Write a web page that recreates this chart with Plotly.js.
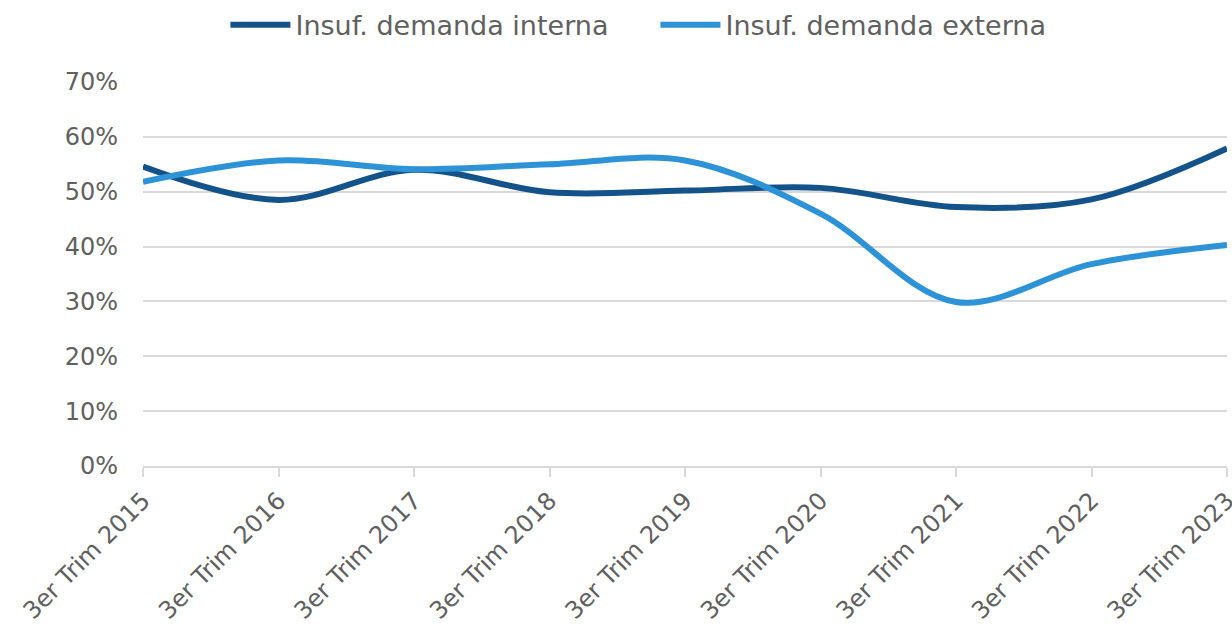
<!DOCTYPE html>
<html><head><meta charset="utf-8">
<script src="https://cdn.plot.ly/plotly-3.0.1.min.js"></script>
<style>html,body{margin:0;padding:0;background:#fff;}#chart{width:1232px;height:630px;}</style>
</head><body><div id="chart"></div>
<script>
const categories = ["3er Trim 2015","3er Trim 2016","3er Trim 2017","3er Trim 2018","3er Trim 2019","3er Trim 2020","3er Trim 2021","3er Trim 2022","3er Trim 2023"];
const interna = [0.546, 0.485, 0.540, 0.499, 0.502, 0.507, 0.472, 0.486, 0.579];
const externa = [0.518, 0.557, 0.541, 0.550, 0.557, 0.460, 0.299, 0.368, 0.403];
const yTicks = [0, 0.1, 0.2, 0.3, 0.4, 0.5, 0.6, 0.7];

const fam = "DejaVu Sans, Noto Sans, sans-serif";
const grey = "#606060";
const data = [
  {x: categories, y: interna, name: "Insuf. demanda interna", type: "scatter", mode: "lines",
   line: {color: "#14538A", width: 6, shape: "spline", smoothing: 1}},
  {x: categories, y: externa, name: "Insuf. demanda externa", type: "scatter", mode: "lines",
   line: {color: "#2E93D6", width: 6, shape: "spline", smoothing: 1}}
];
const layout = {
  width: 1232, height: 630,
  margin: {l: 143, r: 5, t: 82, b: 164},
  paper_bgcolor: "#fff", plot_bgcolor: "#fff",
  font: {family: fam, color: grey, size: 24},
  showlegend: true,
  legend: {orientation: "h", x: 0.532, xanchor: "center", xref: "container",
           y: 0.96, yanchor: "middle", yref: "container", entrywidth: 355, entrywidthmode: "pixels",
           font: {family: fam, color: grey, size: 27}, itemwidth: 60, traceorder: "normal"},
  xaxis: {type: "category", range: [0, 8], showgrid: false, zeroline: false, automargin: false,
          showline: true, linecolor: "#d9d9d9", linewidth: 2,
          ticks: "outside", ticklen: 9, tickcolor: "#d9d9d9", tickwidth: 2,
          tickangle: -45, tickfont: {family: fam, size: 24, color: grey}},
  yaxis: {range: [0, 0.7], tickvals: yTicks, tickformat: ".0%", showgrid: true, gridcolor: "#d9d9d9", gridwidth: 2,
          zeroline: false, showline: false, ticks: "", ticklabelstandoff: 24, automargin: false,
          tickfont: {family: fam, size: 24, color: grey}}
};
Plotly.newPlot("chart", data, layout, {displayModeBar: false, staticPlot: true});
</script></body></html>
